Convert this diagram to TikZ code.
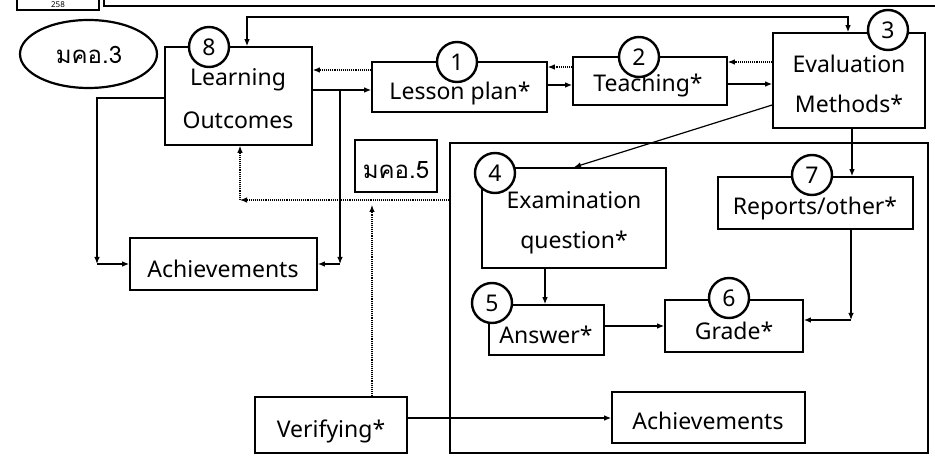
\documentclass[tikz,border=0pt]{standalone}
\usepackage{fontspec}
\setmainfont{Noto Sans}
\newfontfamily\thaifont[Script=Thai]{Loma}
\usetikzlibrary{arrows.meta,shapes.geometric,calc}
\tikzset{
  box/.style={draw, line width=1.6pt, inner sep=0pt, fill=white},
  num/.style={draw, circle, line width=2.4pt, fill=white, minimum size=40pt, inner sep=0pt, font=\fontsize{23}{23}\selectfont},
  txt/.style={inner sep=0pt, font=\fontsize{23}{23}\selectfont, align=center},
  ttxt/.style={inner sep=0pt, font=\thaifont\fontsize{24}{24}\selectfont},
  arr/.style={line width=1.2pt, -{Latex[length=7pt,width=5.5pt]}},
  darr/.style={line width=1.1pt, densely dotted, -{Latex[length=7pt,width=5.5pt]}},
}
\begin{document}
\begin{tikzpicture}[x=1pt,y=-1pt]
\clip (0,0) rectangle (935,457);
% page remnants at top
\node[box, minimum width=82pt, minimum height=40pt] (pg) at (58,-10) {};
\node[inner sep=0pt, font=\fontsize{8}{8}\selectfont] (pgt) at (58,4.5) {258};
\node[box, line width=2.4pt, minimum width=850pt, minimum height=40pt, fill=none] (hdr) at (529,-14) {};
% ellipse
\node[draw, ellipse, line width=2.2pt, minimum width=137pt, minimum height=68pt, inner sep=0pt] (mko3) at (88.5,54) {};
\node[ttxt] (mko3t) at (89,55) {มคอ.3};
% frame
\node[box, fill=none, minimum width=478pt, minimum height=310pt] (fr) at (689,298) {};
% boxes
\node[box, minimum width=147pt, minimum height=98pt] (lo) at (238.5,96) {};
\node[box, minimum width=175pt, minimum height=50pt] (lp) at (459.5,87) {};
\node[box, minimum width=154pt, minimum height=48pt] (te) at (650,81) {};
\node[box, minimum width=152pt, minimum height=95pt] (ev) at (849,80.5) {};
\node[box, minimum width=82pt, minimum height=52pt] (mko5) at (396,166) {};
\node[box, minimum width=184pt, minimum height=100pt] (ex) at (574,218) {};
\node[box, minimum width=195pt, minimum height=52pt] (rp) at (815.5,203) {};
\node[box, minimum width=115pt, minimum height=50pt] (an) at (546.5,330) {};
\node[box, minimum width=138pt, minimum height=52pt] (gr) at (734,326) {};
\node[box, minimum width=193pt, minimum height=51pt] (ar) at (708.5,417.5) {};
\node[box, minimum width=152pt, minimum height=56pt] (vf) at (331,425) {};
\node[box, minimum width=187pt, minimum height=52pt] (al) at (223.5,264) {};
% texts
\node[txt] (lot1) at (238,80) {Learning};
\node[txt] (lot2) at (238,120) {Outcomes};
\node[txt] (lpt) at (460,94) {Lesson plan*};
\node[txt] (tet) at (648,86) {Teaching*};
\node[txt] (evt1) at (849,64) {Evaluation};
\node[txt] (evt2) at (849,104) {Methods*};
\node[ttxt] (mko5t) at (396,170) {มคอ.5};
\node[txt] (ext1) at (574,200) {Examination};
\node[txt] (ext2) at (574,243) {question*};
\node[txt] (rpt) at (815,209) {Reports/other*};
\node[txt] (ant) at (546,335) {Answer*};
\node[txt] (grt) at (734,331) {Grade*};
\node[txt] (art) at (708,421) {Achievements};
\node[txt] (vft) at (331,431) {Verifying*};
\node[txt] (alt) at (223,269) {Achievements};
% numbered circles
\node[num] (c8) at (209,47) {8};
\node[num] (c1) at (457,62) {1};
\node[num] (c2) at (639,57) {2};
\node[num] (c3) at (888,30) {3};
\node[num] (c4) at (495,173) {4};
\node[num] (c7) at (812,175) {7};
\node[num] (c5) at (492,303) {5};
\node[num] (c6) at (729,298) {6};
% helper coordinates
\coordinate (y90) at (0,90);
\coordinate (y70) at (0,70);
\coordinate (y85) at (0,85);
\coordinate (y67) at (0,67);
\coordinate (y84) at (0,84);
\coordinate (y62) at (0,62);
\coordinate (evo) at (0,105);
\coordinate (x852) at (852,0);
\coordinate (tl) at (247,17);
\coordinate (tr) at (848,17);
\coordinate (lc1) at (97,98);
\coordinate (lc2) at (97,264);
\coordinate (rc1) at (340,90);
\coordinate (rc2) at (340,264);
\coordinate (dc) at (240,200);
\coordinate (vtop) at (372,205);
\coordinate (y418) at (0,418);
\coordinate (x545) at (545,0);
\coordinate (y326) at (0,326);
\coordinate (gc1) at (851,320);
% connectors
\draw[arr] (lo.east |- y90) -- (lp.west |- y90);
\draw[darr] (lp.west |- y70) -- (lo.east |- y70);
\draw[arr] (lp.east |- y85) -- (te.west |- y85);
\draw[darr] (te.west |- y67) -- (lp.east |- y67);
\draw[arr] (te.east |- y84) -- (ev.west |- y84);
\draw[darr] (ev.west |- y62) -- (te.east |- y62);
\draw[arr] (ev.west |- evo) -- (ex.north);
\draw[arr] (ev.south -| x852) -- (rp.north -| x852);
\draw[line width=1.2pt, {Latex[length=7pt,width=5.5pt]}-{Latex[length=7pt,width=5.5pt]}] (tl |- lo.north) -- (tl) -- (tr) -- (tr |- ev.north);
\draw[arr] (lo.west |- lc1) -- (lc1) -- (lc2);
\draw[arr] (lc2) -- (al.west |- lc2);
\draw[arr] (rc1) -- (rc2);
\draw[arr] (rc2) -- (al.east |- rc2);
\draw[darr] (fr.west |- dc) -- (dc);
\draw[darr] (dc) -- (dc |- lo.south);
\draw[darr] (vf.north -| vtop) -- (vtop);
\draw[arr] (vf.east |- y418) -- (ar.west |- y418);
\draw[arr] (ex.south -| x545) -- (an.north -| x545);
\draw[arr] (an.east |- y326) -- (gr.west |- y326);
\draw[arr] (rp.south -| gc1) -- (gc1);
\draw[arr] (gc1) -- (gr.east |- gc1);
\end{tikzpicture}
\end{document}
